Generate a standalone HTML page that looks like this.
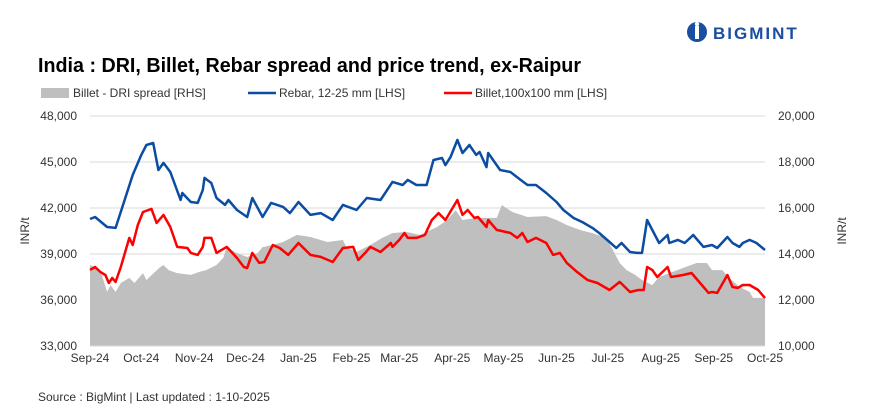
<!DOCTYPE html>
<html><head><meta charset="utf-8">
<style>
body{margin:0;background:#fff;width:873px;height:417px;overflow:hidden;font-family:"Liberation Sans",sans-serif}
svg{position:absolute;left:0;top:0}
</style></head>
<body>
<svg width="873" height="417" id="chart">
<g id="logo">
<circle cx="697" cy="32" r="10" fill="#1a4fa0"/>
<rect x="695" y="26" width="4" height="13" fill="#fff"/>
<circle cx="697" cy="24" r="2.2" fill="#fff"/>
<text x="713" y="39" font-size="17" font-weight="bold" fill="#1a4fa0" letter-spacing="2">BIGMINT</text>
</g>
<text x="38" y="72" font-size="20" font-weight="bold" fill="#000" textLength="543" lengthAdjust="spacingAndGlyphs">India : DRI, Billet, Rebar spread and price trend, ex-Raipur</text>
<g font-size="12" fill="#333">
<g><rect x="41" y="88" width="28" height="10" fill="#bfbfbf"/><text x="73" y="97">Billet - DRI spread  [RHS]</text></g>
<g><line x1="248" y1="93" x2="276" y2="93" stroke="#0b4da2" stroke-width="2.5"/><text x="279" y="97">Rebar, 12-25 mm [LHS]</text></g>
<g><line x1="444" y1="93" x2="472" y2="93" stroke="#ff0000" stroke-width="2.5"/><text x="475" y="97">Billet,100x100 mm [LHS]</text></g>
</g>
<g id="grid"></g><g id="area"></g><g id="lines"></g><g id="axes"></g>
<text x="38" y="401" font-size="12" fill="#333">Source : BigMint | Last updated : 1-10-2025</text>
</svg>
<script>
const leftTicks=[33000,36000,39000,42000,45000,48000];
const rightTicks=[10000,12000,14000,16000,18000,20000];
const monthLabels=["Sep-24","Oct-24","Nov-24","Dec-24","Jan-25","Feb-25","Mar-25","Apr-25","May-25","Jun-25","Jul-25","Aug-25","Sep-25","Oct-25"];
const monthDays=[0,30,61,91,122,153,181,212,242,273,303,334,365,395];
const rebarDays=[0,3,10,15,25,30,33,37,40,43,47,53,54,59,63,66,67,71,74,79,81,86,92,95,101,106,113,117,122,129,135,142,148,156,162,170,177,183,186,191,197,201,206,208,211,215,218,222,226,228,232,233,240,246,252,256,261,267,273,277,283,288,294,298,304,308,311,316,320,323,326,333,338,339,344,348,353,359,364,367,373,376,380,382,386,390,395];
const rebarValues=[41280,41415,40760,40700,44150,45460,46110,46240,44480,44940,44350,42520,42980,42390,42330,43180,43960,43630,42650,42200,42520,41870,41410,42650,41410,42330,42070,41670,42390,41550,41670,41220,42200,41870,42650,42520,43700,43500,43830,43500,43500,45130,45260,44800,45330,46440,45590,46110,45460,45650,44670,45590,44480,44350,43830,43500,43500,42980,42390,41870,41350,41090,40700,40370,39780,39390,39720,39130,39070,39070,41220,39720,40240,39720,39920,39720,40240,39460,39590,39390,40110,39720,39460,39720,39920,39720,39260];
const billetDays=[0,3,6,9,11,13,15,18,23,25,28,31,36,39,43,47,51,57,59,63,66,67,71,74,80,86,90,92,95,99,102,107,111,116,122,129,135,142,148,154,157,161,164,170,176,177,181,184,186,191,196,200,204,208,215,218,221,225,227,232,233,238,246,250,253,256,261,267,271,275,279,285,291,297,304,310,316,321,324,326,329,332,338,340,347,352,357,362,364,367,373,376,379,382,386,391,395];
const billetValues=[37960,38150,37830,37630,37110,37440,37180,38150,40050,39590,40890,41740,41940,41020,41550,40760,39460,39390,39070,38940,39460,40050,40050,39070,39460,38740,38150,38090,39070,38420,38480,39590,39390,38940,39720,38940,38810,38480,39390,39460,38610,39070,39460,39130,39720,39460,39920,40370,40050,40050,40240,41220,41670,41220,42520,41550,41870,41350,41410,40760,41220,40570,40370,40050,40370,39780,40050,39720,38940,39070,38420,37830,37310,37110,36650,37180,36520,36650,36650,38150,37960,37500,38150,37500,37630,37760,37110,36460,36520,36460,37630,36850,36790,36980,36980,36650,36130];
const spreadDays=[0,6,10,12,15,18,23,26,31,33,41,43,46,51,59,64,68,74,78,80,86,92,98,101,107,113,121,129,139,148,150,156,164,171,177,185,193,203,209,214,218,226,238,241,247,256,267,273,279,287,294,302,306,310,314,319,323,329,333,339,347,355,361,364,370,374,380,386,388,395];
const spreadValues=[13520,13300,12350,12650,12350,12740,12960,12740,13170,12870,13430,13520,13300,13170,13090,13220,13300,13520,13830,14300,14040,13870,14040,14300,14390,14520,14830,14740,14520,14610,14300,14090,14390,14700,14910,14960,14830,15170,15480,15910,15480,15570,15570,16130,15830,15610,15650,15480,15260,15040,14910,14700,14170,13610,13300,13090,12870,12650,13000,13170,13390,13610,13610,13300,13300,12960,12570,12350,12090,12090];

const X0=90,X1=765,YT=116,YB=346;
const xs=d=>X0+d*(X1-X0)/395;
const yL=v=>YB-(v-33000)*(YB-YT)/15000;
const yR=v=>YB-(v-10000)*(YB-YT)/10000;
const NS="http://www.w3.org/2000/svg";
function mk(tag,attrs,parent){const e=document.createElementNS(NS,tag);for(const k in attrs)e.setAttribute(k,attrs[k]);parent.appendChild(e);return e;}
const grid=document.getElementById('grid'),axes=document.getElementById('axes');
leftTicks.forEach((t,i)=>{
  if(i>0){const g=mk('line',{x1:X0,x2:X1,y1:yL(t),y2:yL(t),stroke:'#d9d9d9','stroke-width':1},grid);
  
  }
  const l=mk('text',{x:77,y:yL(t)+4,'font-size':12,'text-anchor':'end',fill:'#333'},axes);l.textContent=t.toLocaleString('en-US');
  
  
});
rightTicks.forEach(t=>{
  const l=mk('text',{x:778,y:yR(t)+4,'font-size':12,fill:'#333'},axes);l.textContent=t.toLocaleString('en-US');
  
  
});
monthLabels.forEach((m,i)=>{
  const l=mk('text',{x:xs(monthDays[i]),y:362,'font-size':12,'text-anchor':'middle',fill:'#333'},axes);l.textContent=m;
  
  
});
const yt1=mk('text',{x:0,y:0,'font-size':12,fill:'#333','text-anchor':'middle',transform:'translate(29,231) rotate(-90)'},axes);yt1.textContent='INR/t';


const yt2=mk('text',{x:0,y:0,'font-size':12,fill:'#333','text-anchor':'middle',transform:'translate(846,231) rotate(-90)'},axes);yt2.textContent='INR/t';


const base=mk('line',{x1:X0,x2:X1,y1:YB,y2:YB,stroke:'#d9d9d9'},axes);


let ap='M'+xs(spreadDays[0])+','+yR(10000);
spreadDays.forEach((d,i)=>{ap+=' L'+xs(d).toFixed(1)+','+yR(spreadValues[i]).toFixed(1);});
ap+=' L'+xs(spreadDays[spreadDays.length-1])+','+yR(10000)+' Z';
const area=mk('path',{d:ap,fill:'#bfbfbf'},document.getElementById('area'));


function line(days,vals,col,name){
  const p=days.map((d,i)=>(i?'L':'M')+xs(d).toFixed(1)+','+yL(vals[i]).toFixed(1)).join(' ');
  const e=mk('path',{d:p,fill:'none',stroke:col,'stroke-width':2.5,'stroke-linejoin':'round'},document.getElementById('lines'));
  
  
}
line(rebarDays,rebarValues,'#0b4da2','rebar-line');
line(billetDays,billetValues,'#ff0000','billet-line');
</script>
</body></html>
